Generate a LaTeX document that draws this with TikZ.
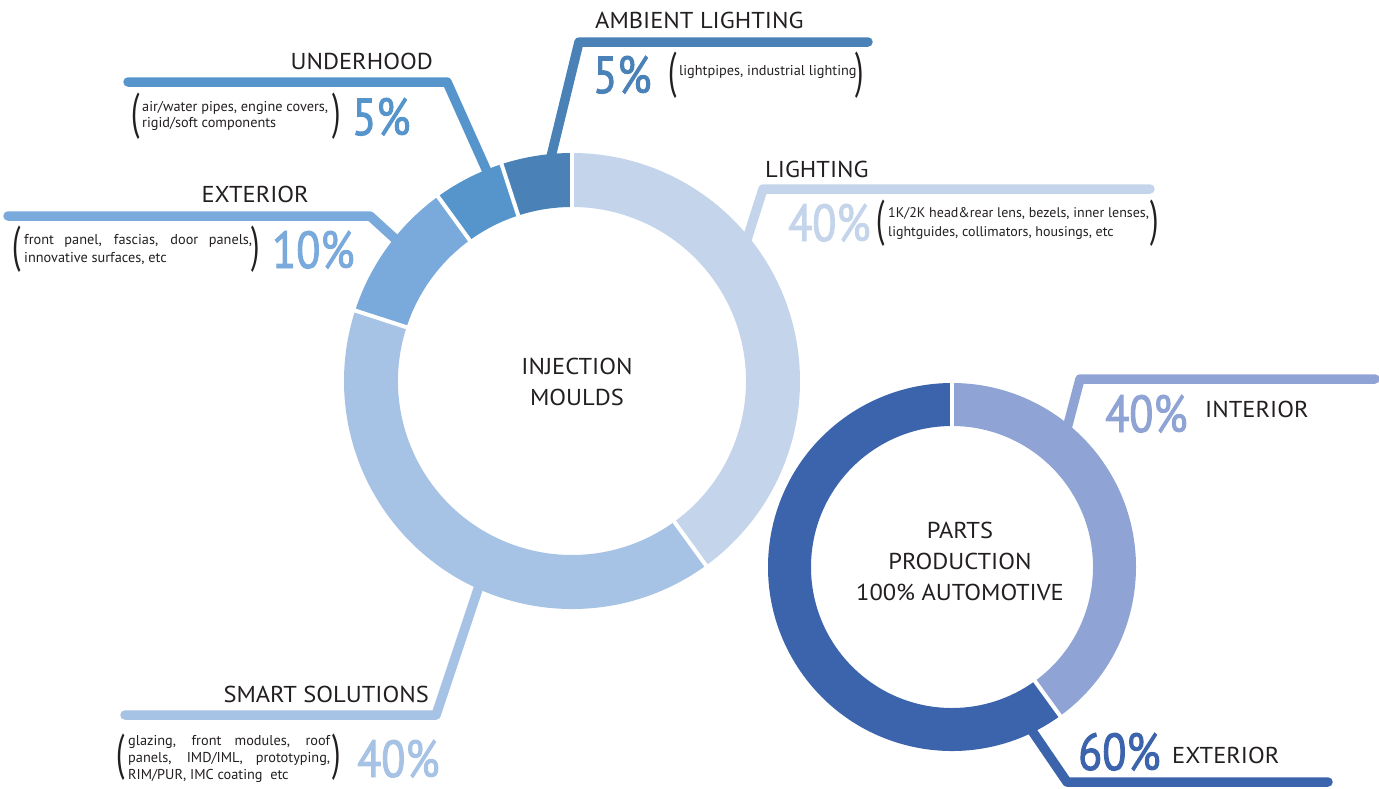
\documentclass[tikz,border=0pt]{standalone}
\usepackage{fontspec}
\setmainfont{PT Sans}
\newfontfamily\headfont[FakeStretch=1.065]{PT Sans}
\newfontfamily\pctfont[FakeStretch=0.85,FakeBold=1.8]{PT Sans}
\newfontfamily\parenfont[FakeStretch=0.6]{PT Sans}
\definecolor{cLight}{HTML}{C4D5EB}
\definecolor{cSmart}{HTML}{A6C2E4}
\definecolor{cExt}{HTML}{7AAADB}
\definecolor{cUnder}{HTML}{5595CC}
\definecolor{cAmb}{HTML}{4A82B8}
\definecolor{cInt}{HTML}{8FA4D4}
\definecolor{cPExt}{HTML}{3C64AC}
\definecolor{txt}{HTML}{231F20}
\tikzset{
  leader/.style={line width=9.5pt, line cap=round, line join=round},
  head/.style={inner sep=0pt, text=txt, font=\headfont\fontsize{23}{23}\selectfont},
  desc/.style={inner sep=0pt, text=txt, font=\fontsize{14.3}{14.3}\selectfont},
  pct/.style={inner sep=0pt, font=\pctfont\fontsize{52}{52}\selectfont},
  paren/.style={inner sep=0pt, text=txt, font=\parenfont\fontsize{50}{50}\selectfont},
  gap/.style={white, line width=4pt}
}
\begin{document}
\begin{tikzpicture}[x=1pt,y=-1pt]
\useasboundingbox (0,0) rectangle (1379,788);
% ---------- leader lines (behind rings)
\coordinate (uh0) at (490,178); \coordinate (uh1) at (447,82); \coordinate (uh2) at (128,82);
\coordinate (ex0) at (403,246); \coordinate (ex1) at (370,216); \coordinate (ex2) at (8,216);
\coordinate (am0) at (549,165); \coordinate (am1) at (579,42); \coordinate (am2) at (868,42);
\coordinate (li0) at (743,252); \coordinate (li1) at (763,189); \coordinate (li2) at (1150,189);
\coordinate (sm0) at (480,583); \coordinate (sm1) at (436,715); \coordinate (sm2) at (125,715);
\coordinate (in0) at (1064,440); \coordinate (in1) at (1080,379); \coordinate (in2) at (1375,379);
\coordinate (se0) at (1026,722); \coordinate (se1) at (1067,782); \coordinate (se2) at (1328,782);
\draw[leader, cUnder] (uh0) -- (uh1) -- (uh2);
\draw[leader, cExt] (ex0) -- (ex1) -- (ex2);
\draw[leader, cAmb] (am0) -- (am1) -- (am2);
\draw[leader, cLight] (li0) -- (li1) -- (li2);
\draw[leader, cSmart] (sm0) -- (sm1) -- (sm2);
\draw[leader, cInt] (in0) -- (in1) -- (in2);
\draw[leader, cPExt] (se0) -- (se1) -- (se2);
% ---------- injection moulds ring
\begin{scope}[shift={(572,381)}]
\foreach \a/\b/\c in {-90/54/cLight, 54/198/cSmart, 198/234/cExt, 234/252/cUnder, 252/270/cAmb}{
  \fill[\c] (\a:228) arc[start angle=\a, end angle=\b, radius=228] -- (\b:174) arc[start angle=\b, end angle=\a, radius=174] -- cycle;
}
\foreach \a in {-90,54,198,234,252}{
  \draw[gap] (\a:170) -- (\a:232);
}
\end{scope}
% ---------- parts production ring
\begin{scope}[shift={(952,567)}]
\foreach \a/\b/\c in {-90/54/cInt, 54/270/cPExt}{
  \fill[\c] (\a:184) arc[start angle=\a, end angle=\b, radius=184] -- (\b:141) arc[start angle=\b, end angle=\a, radius=141] -- cycle;
}
\foreach \a in {-90,54}{
  \draw[gap] (\a:137) -- (\a:188);
}
\end{scope}
% ---------- centre texts
\node[head, anchor=base] (inj1) at (577,374) {INJECTION};
\node[head, anchor=base] (inj2) at (577,405) {MOULDS};
\node[head, anchor=base] (pp1) at (960,538) {PARTS};
\node[head, anchor=base] (pp2) at (960,569) {PRODUCTION};
\node[head, anchor=base] (pp3) at (960,600) {100\% AUTOMOTIVE};
% ---------- underhood
\node[head, anchor=base east] (uhT) at (433,69) {UNDERHOOD};
\node[paren] (uhL) at (136,116) {(};
\node[desc, anchor=base west] (uhD1) at (142,111) {air/water pipes, engine covers,};
\node[desc, anchor=base west] (uhD2) at (142,127) {rigid/soft components};
\node[paren] (uhR) at (337,116) {)};
\node[pct, text=cUnder, anchor=base west] (uhP) at (352,135) {5\%};
% ---------- exterior
\node[head, anchor=base east] (exT) at (309,202) {EXTERIOR};
\node[paren] (exL) at (17,249) {(};
\node[desc, anchor=base west] (exD1) at (24,244) {\makebox[228pt][s]{front panel, fascias, door panels,}};
\node[desc, anchor=base west] (exD2) at (24,262) {innovative surfaces, etc};
\node[paren] (exR) at (256,249) {)};
\node[pct, text=cExt, anchor=base west] (exP) at (272,268) {10\%};
% ---------- ambient lighting
\node[head, anchor=base west] (amT) at (595,28) {AMBIENT LIGHTING};
\node[pct, text=cAmb, anchor=base west] (amP) at (593,93) {5\%};
\node[paren] (amL) at (673,75) {(};
\node[desc, anchor=base west] (amD) at (679,75) {lightpipes, industrial lighting};
\node[paren] (amR) at (860,75) {)};
% ---------- lighting
\node[head, anchor=base west] (liT) at (765,177) {LIGHTING};
\node[pct, text=cLight, anchor=base west] (liP) at (788,241) {40\%};
\node[paren] (liL) at (881,223) {(};
\node[desc, anchor=base west, font=\fontsize{14}{14}\selectfont] (liD1) at (888,217) {1K/2K head\&rear lens, bezels, inner lenses,};
\node[desc, anchor=base west, font=\fontsize{14}{14}\selectfont] (liD2) at (888,236) {lightguides, collimators, housings, etc};
\node[paren] (liR) at (1155,223) {)};
% ---------- smart solutions
\node[head, anchor=base east] (smT) at (429,702) {SMART SOLUTIONS};
\node[paren] (smL) at (121,757) {(};
\node[desc, anchor=base west] (smD1) at (128,745) {\makebox[202pt][s]{glazing, front modules, roof}};
\node[desc, anchor=base west] (smD2) at (128,762) {\makebox[202pt][s]{panels, IMD/IML, prototyping,}};
\node[desc, anchor=base west] (smD3) at (128,779) {RIM/PUR, IMC coating\ \ etc};
\node[paren] (smR) at (337,757) {)};
\node[pct, text=cSmart, anchor=base west] (smP) at (357,777) {40\%};
% ---------- interior
\node[pct, text=cInt, anchor=base west] (inP) at (1105,432) {40\%};
\node[head, anchor=base west] (inT) at (1205,417) {INTERIOR};
% ---------- parts exterior
\node[pct, text=cPExt, anchor=base west] (seP) at (1078,770) {60\%};
\node[head, anchor=base west] (seT) at (1172,763) {EXTERIOR};
\end{tikzpicture}
\end{document}
